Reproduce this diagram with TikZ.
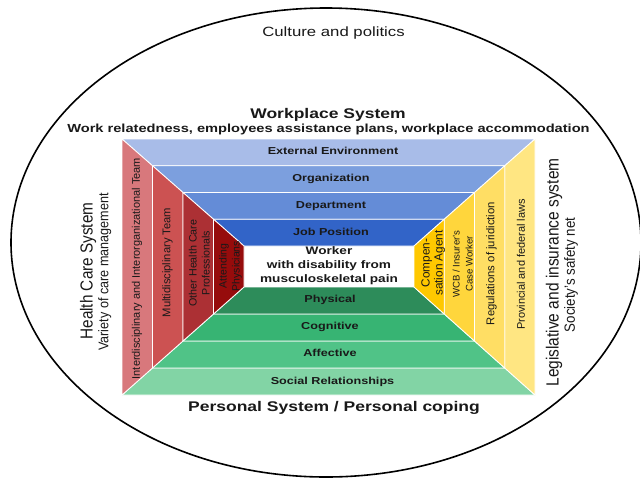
\documentclass[tikz,border=0pt]{standalone}
\usepackage{fontspec}
\setmainfont{Liberation Sans}
\usepackage{graphicx}

% text set at a given size/leading, widened along its own reading direction
\newcommand\lbl[4][1.25]{\fontsize{#2}{#3}\selectfont\scalebox{#1}[1]{\begin{tabular}{@{}c@{}}#4\end{tabular}}}

% workplace levels (outer to inner)
\definecolor{top0}{HTML}{A8BCE8}
\definecolor{top1}{HTML}{7C9FDE}
\definecolor{top2}{HTML}{648CD7}
\definecolor{top3}{HTML}{3264C8}
% personal levels
\definecolor{bot0}{HTML}{82D4A5}
\definecolor{bot1}{HTML}{50C387}
\definecolor{bot2}{HTML}{37B473}
\definecolor{bot3}{HTML}{2D8C5A}
% health care levels
\definecolor{lef0}{HTML}{D8787C}
\definecolor{lef1}{HTML}{CC5252}
\definecolor{lef2}{HTML}{AC3034}
\definecolor{lef3}{HTML}{960C0C}
% legislative levels
\definecolor{rig0}{HTML}{FFE682}
\definecolor{rig1}{HTML}{FFDE64}
\definecolor{rig2}{HTML}{FFD63C}
\definecolor{rig3}{HTML}{FFC800}

\begin{document}
\begin{tikzpicture}[x=1pt,y=-1pt,line join=round,
  band/.style={draw=white,line width=0.8pt},
  txt/.style={inner sep=0pt,text=black!90},
  vtxt/.style={txt,rotate=90}]
\useasboundingbox (0,0) rectangle (640,480);
\fill[white] (0,0) rectangle (640,480);

% outer context
\draw[line width=1.6pt] (326,242.5) ellipse [x radius=315pt, y radius=234.5pt];

% nested frames: four trapezoids per side for each level
\foreach \i in {0,1,2,3}{
  \pgfmathsetmacro\La{122+30.5*\i}   \pgfmathsetmacro\Lb{122+30.5*(\i+1)}
  \pgfmathsetmacro\Ra{535-30.25*\i}  \pgfmathsetmacro\Rb{535-30.25*(\i+1)}
  \pgfmathsetmacro\Ta{139+26.75*\i}  \pgfmathsetmacro\Tb{139+26.75*(\i+1)}
  \pgfmathsetmacro\Ba{395-27*\i}     \pgfmathsetmacro\Bb{395-27*(\i+1)}
  \filldraw[band,fill=top\i] (\La,\Ta) -- (\Ra,\Ta) -- (\Rb,\Tb) -- (\Lb,\Tb) -- cycle;
  \filldraw[band,fill=bot\i] (\La,\Ba) -- (\Ra,\Ba) -- (\Rb,\Bb) -- (\Lb,\Bb) -- cycle;
  \filldraw[band,fill=lef\i] (\La,\Ta) -- (\Lb,\Tb) -- (\Lb,\Bb) -- (\La,\Ba) -- cycle;
  \filldraw[band,fill=rig\i] (\Ra,\Ta) -- (\Rb,\Tb) -- (\Rb,\Bb) -- (\Ra,\Ba) -- cycle;
}

% headings
\node[txt] (culture) at (333.5,33) {\lbl{13.4}{16}{Culture and politics}};
\node[txt,font=\bfseries] (work) at (328,115) {\lbl{14}{16}{Workplace System}};
\node[txt,font=\bfseries] (worksub) at (328.5,130) {\lbl{11.7}{14}{Work relatedness, employees assistance plans, workplace accommodation}};
\node[txt,font=\bfseries] (personal) at (334,408) {\lbl{14}{16}{Personal System / Personal coping}};

% workplace levels
\node[txt,font=\bfseries] (ext)  at (333,152.5) {\lbl{10.1}{12}{External Environment}};
\node[txt,font=\bfseries] (org)  at (331,179.5) {\lbl{10.1}{12}{Organization}};
\node[txt,font=\bfseries] (dep)  at (331,206.5) {\lbl{10.1}{12}{Department}};
\node[txt,font=\bfseries] (job)  at (331,233.5) {\lbl{10.1}{12}{Job Position}};

% worker at the centre
\node[txt,font=\bfseries] (worker) at (329,266) {\lbl{10.9}{14}{Worker\\with disability from\\musculoskeletal pain}};

% personal levels
\node[txt,font=\bfseries] (phy) at (330,300.5) {\lbl{10.1}{12}{Physical}};
\node[txt,font=\bfseries] (cog) at (330,327.5) {\lbl{10.1}{12}{Cognitive}};
\node[txt,font=\bfseries] (aff) at (330,354.5) {\lbl{10.1}{12}{Affective}};
\node[txt,font=\bfseries] (soc) at (332.5,382) {\lbl{10.1}{12}{Social Relationships}};

% health care system
\node[vtxt] (hcs) at (89,271) {\lbl[0.88]{17.4}{18}{Health Care System}};
\node[vtxt] (hcsub) at (105.5,272) {\lbl[0.9]{14}{14}{Variety of care management}};
\node[vtxt] (inter) at (137.5,268.5) {\lbl[1]{11}{12}{Interdisciplinary and Interorganizational Team}};
\node[vtxt] (multi) at (168,262.5) {\lbl[1]{11.2}{12}{Multidisciplinary Team}};
\node[vtxt] (other) at (200.5,263) {\lbl[1]{10.7}{13}{Other Health Care\\Professionals}};
\node[vtxt] (attend) at (230.5,266) {\lbl[1]{10.5}{13}{Attending\\Physicians}};

% legislative and insurance system
\node[vtxt] (comp) at (433.5,263) {\lbl[1]{11.8}{13}{Compen-\\sation Agent}};
\node[vtxt] (wcb) at (463.5,264) {\lbl[1]{9.6}{13}{WCB / Insurer’s\\Case Worker}};
\node[vtxt] (reg) at (492,263.5) {\lbl[1]{11.3}{12}{Regulations of juridiction}};
\node[vtxt] (prov) at (522.5,264.5) {\lbl[1]{11}{12}{Provincial and federal laws}};
\node[vtxt] (leg) at (555,272.5) {\lbl[0.88]{17.6}{18}{Legislative and insurance system}};
\node[vtxt] (legsub) at (571.5,275) {\lbl[0.9]{14.8}{14}{Society’s safety net}};
\end{tikzpicture}
\end{document}
